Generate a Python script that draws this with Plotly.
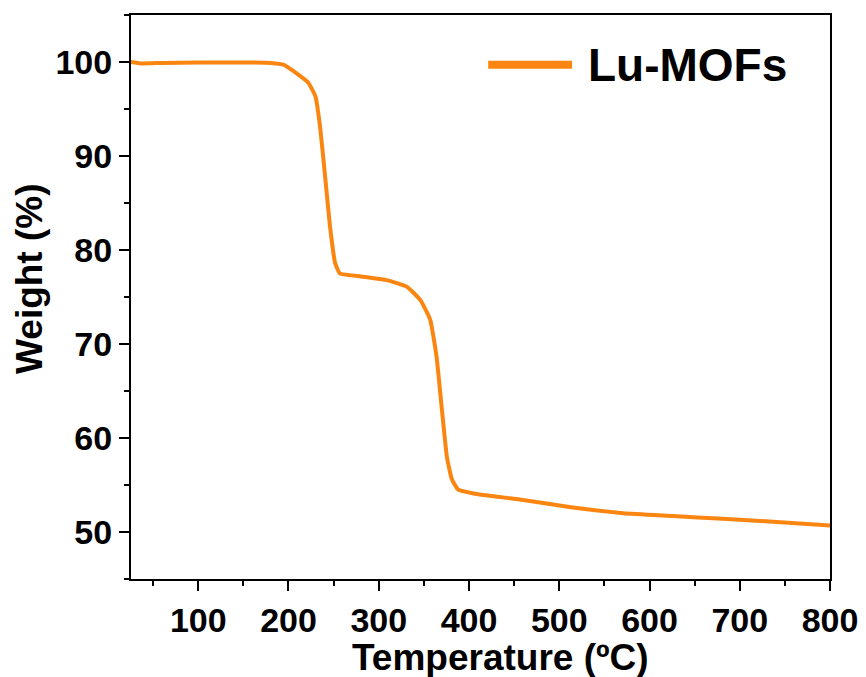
import plotly.graph_objects as go

temperature = [25, 36, 60, 100, 150, 180, 195, 209, 222, 230, 235, 240.6, 246, 251.7, 257,
               270, 287, 309, 331, 346, 357, 364, 370, 375.5, 381, 388, 405, 460, 515,
               571, 626, 681, 737, 800]
weight = [100.0, 99.85, 99.9, 99.95, 99.95, 99.9, 99.7, 98.8, 97.8, 96.3, 93.1, 87.8, 82.5, 78.6, 77.5,
          77.3, 77.1, 76.8, 76.1, 74.7, 72.6, 68.7, 63.0, 58.0, 55.6, 54.5, 54.1, 53.4, 52.6,
          52.0, 51.7, 51.4, 51.1, 50.7]
series_name = "Lu-MOFs"
x_title = "Temperature (ºC)"
y_title = "Weight (%)"
x_ticks = [100, 200, 300, 400, 500, 600, 700, 800]
y_ticks = [50, 60, 70, 80, 90, 100]

color = "#FA8611"
font = "Liberation Sans, Arial, sans-serif"

fig = go.Figure()
fig.add_trace(go.Scatter(x=temperature, y=weight, mode="lines", name=series_name,
                         line=dict(color=color, width=4, shape="spline", smoothing=0.4),
                         showlegend=False))

# legend drawn as a line sample + label
fig.add_shape(type="line", xref="paper", yref="paper", x0=0.511, x1=0.631, y0=0.912, y1=0.912,
              line=dict(color=color, width=8))
fig.add_annotation(xref="paper", yref="paper", x=0.651, y=0.912, xanchor="left", yanchor="middle",
                   text="<b>" + series_name + "</b>", showarrow=False,
                   font=dict(family=font, size=46, color="black"))

# axis titles
fig.add_annotation(xref="paper", yref="paper", x=0.529, y=-0.140, xanchor="center", yanchor="middle",
                   text="<b>" + x_title + "</b>", showarrow=False,
                   font=dict(family=font, size=37, color="black"))
fig.add_annotation(xref="paper", yref="paper", x=-0.1445, y=0.532, xanchor="center", yanchor="middle",
                   text="<b>" + y_title + "</b>", showarrow=False, textangle=-90,
                   font=dict(family=font, size=37, color="black"))

axis_common = dict(showline=True, linecolor="black", linewidth=2, mirror=True,
                   ticks="outside", ticklen=10, tickwidth=2, tickcolor="black",
                   showgrid=False, zeroline=False, automargin=False,
                   tickfont=dict(family=font, size=34, color="black", weight="bold"),
                   minor=dict(ticks="outside", ticklen=5, tickwidth=2, tickcolor="black"))

fig.update_xaxes(range=[25.5, 800], tickvals=x_ticks,
                 minor_dtick=50, minor_tick0=0,
                 **axis_common)
fig.update_yaxes(range=[45, 105], tickvals=y_ticks,
                 minor_dtick=5, minor_tick0=0,
                 **axis_common)

# page body adds an 8px margin; compensate so the plot area lands where the reference has it
fig.update_layout(width=858, height=669, margin=dict(l=123, r=36, t=7, b=98),
                  plot_bgcolor="white", paper_bgcolor="white")

fig.write_html("out.html")
